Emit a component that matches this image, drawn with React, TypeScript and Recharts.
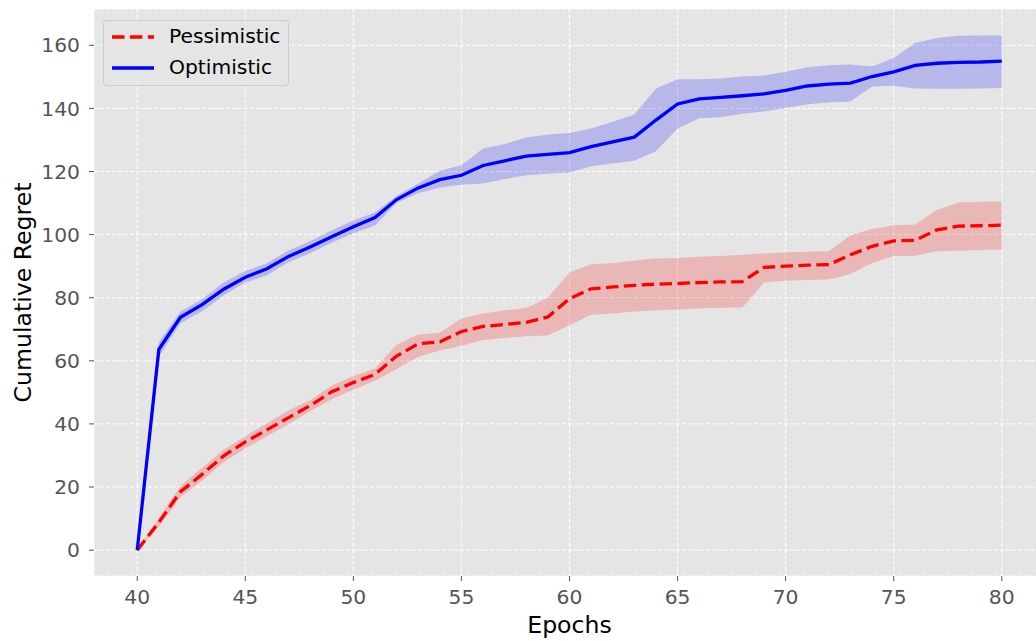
import { ComposedChart, Area, Line, XAxis, YAxis, CartesianGrid, Legend } from 'recharts'

const epochs = [
  40, 41, 42, 43, 44, 45, 46, 47, 48, 49, 50, 51, 52, 53, 54, 55, 56, 57, 58, 59, 60,
  61, 62, 63, 64, 65, 66, 67, 68, 69, 70, 71, 72, 73, 74, 75, 76, 77, 78, 79, 80,
]

const optMean = [
  0, 63.6, 73.8, 77.8, 82.7, 86.5, 89.2, 93.1, 96.1, 99.3, 102.5, 105.4, 111.1,
  114.8, 117.4, 118.8, 121.9, 123.4, 124.9, 125.4, 126.0, 127.9, 129.4, 130.9, 136.3, 141.4, 143.0, 143.5,
  144.0, 144.6, 145.7, 147.1, 147.7, 148.0, 150.1, 151.6, 153.6, 154.3, 154.6, 154.7, 155.0,
]
const optHigh = [
  0, 66.0, 75.6, 79.5, 84.8, 88.5, 90.9, 95.0, 97.9, 101.4, 104.5, 107.0, 112.3,
  116.2, 120.2, 122.0, 127.3, 128.7, 130.8, 131.7, 132.2, 133.6, 135.8, 138.1, 146.3, 149.2, 149.2, 149.5,
  150.1, 150.4, 151.6, 153.0, 153.7, 153.9, 153.3, 156.0, 160.7, 162.3, 163.0, 163.1, 163.2,
]
const optLow = [
  0, 61.3, 71.9, 75.7, 80.7, 84.8, 87.1, 91.2, 94.1, 97.4, 100.4, 102.9, 110.0,
  113.1, 114.9, 115.8, 116.2, 117.6, 118.8, 119.3, 119.7, 121.7, 122.5, 123.4, 126.4, 133.6, 136.9, 137.2,
  138.3, 139.0, 140.1, 141.3, 141.9, 142.2, 146.9, 147.2, 146.3, 146.2, 146.2, 146.3, 146.5,
]

const pessMean = [
  0, 8.8, 18.5, 24.0, 29.9, 34.3, 38.1, 42.0, 45.8, 50.2, 53.1, 55.7, 61.5,
  65.4, 66.0, 69.3, 70.9, 71.5, 72.2, 73.9, 79.7, 82.8, 83.4, 83.9, 84.3, 84.5, 84.8, 85.0,
  85.1, 89.6, 90.0, 90.3, 90.5, 93.6, 96.3, 98.0, 98.2, 101.5, 102.7, 102.8, 103.0,
]
const pessHigh = [
  0, 10.3, 20.3, 26.1, 31.8, 36.1, 40.2, 44.3, 47.5, 52.2, 55.2, 57.6, 65.1,
  68.3, 68.9, 73.4, 75.0, 76.0, 76.7, 80.1, 88.0, 90.6, 91.0, 91.8, 92.4, 92.6, 93.0, 93.2,
  93.6, 94.0, 94.4, 94.6, 94.7, 99.8, 101.8, 103.0, 103.2, 107.9, 110.2, 110.4, 110.5,
]
const pessLow = [
  0, 7.4, 16.8, 22.0, 27.9, 32.2, 36.1, 39.9, 44.0, 47.8, 50.8, 53.7, 57.4,
  61.3, 63.3, 64.8, 66.6, 67.2, 67.8, 68.0, 71.3, 74.6, 75.0, 75.6, 76.0, 76.3, 76.6, 76.8,
  76.9, 84.8, 85.4, 85.6, 85.8, 87.5, 91.0, 93.2, 93.3, 94.7, 94.9, 95.1, 95.2,
]

const xTicks = [40, 45, 50, 55, 60, 65, 70, 75, 80]
const yTicks = [0, 20, 40, 60, 80, 100, 120, 140, 160]

const data = epochs.map((e, i) => ({
  epoch: e,
  opt: optMean[i],
  optBand: [optLow[i], optHigh[i]],
  pess: pessMean[i],
  pessBand: [pessLow[i], pessHigh[i]],
}))

const FONT = '"DejaVu Sans", sans-serif'
const DASH = '12.5 5.4'

function LegendBox() {
  return (
    <div
      style={{
        position: 'relative',
        width: 186,
        height: 66,
        boxSizing: 'border-box',
        background: 'rgba(229,229,229,0.8)',
        border: '1px solid #cccccc',
        borderRadius: 4,
        fontFamily: FONT,
        fontSize: 20.3,
        color: '#000',
      }}
    >
      <svg width={44} height={60} style={{ position: 'absolute', left: 7, top: 0 }}>
        <line x1={1} x2={43} y1={16} y2={16} stroke="#ff0000" strokeWidth={3.3} strokeDasharray={DASH} />
        <line x1={1} x2={43} y1={47} y2={47} stroke="#0000ff" strokeWidth={3.3} />
      </svg>
      <div style={{ position: 'absolute', left: 65, top: 3, lineHeight: '24px' }}>Pessimistic</div>
      <div style={{ position: 'absolute', left: 65, top: 34, lineHeight: '24px' }}>Optimistic</div>
    </div>
  )
}

export default function App() {
  const tick = { fill: '#555555', fontSize: 20.3, fontFamily: FONT }
  return (
    <div style={{ position: 'absolute', left: 0, top: 0, width: 1036, height: 641, overflow: 'hidden', background: '#fff' }}>
      <ComposedChart width={1045} height={641} data={data} margin={{ top: 9, right: 0, bottom: 0, left: 0 }}>
        <CartesianGrid fill="#e5e5e5" fillOpacity={1} stroke="#ffffff" strokeDasharray="4 2" strokeWidth={1} />
        <XAxis
          dataKey="epoch"
          type="number"
          domain={[38, 82]}
          ticks={xTicks}
          height={65}
          axisLine={false}
          tickLine={{ stroke: '#555555' }}
          tickSize={5}
          tickMargin={9}
          tick={tick}
          label={{ value: 'Epochs', position: 'insideBottom', offset: 8, fill: '#000', fontSize: 23.6, fontFamily: FONT }}
        />
        <YAxis
          type="number"
          domain={[-8.2, 171.5]}
          ticks={yTicks}
          width={94}
          axisLine={false}
          tickLine={{ stroke: '#555555' }}
          tickSize={5}
          tickMargin={9}
          tick={tick}
          label={{
            value: 'Cumulative Regret',
            angle: -90,
            position: 'insideLeft',
            offset: 23,
            fill: '#000',
            fontSize: 23.6,
            fontFamily: FONT,
            style: { textAnchor: 'middle' },
          }}
        />
        <Area
          dataKey="optBand"
          type="linear"
          stroke="none"
          fill="#0000ff"
          fillOpacity={0.2}
          isAnimationActive={false}
          activeDot={false}
        />
        <Area
          dataKey="pessBand"
          type="linear"
          stroke="none"
          fill="#ff0000"
          fillOpacity={0.2}
          isAnimationActive={false}
          activeDot={false}
        />
        <Line
          dataKey="pess"
          type="linear"
          stroke="#ff0000"
          strokeWidth={3.3}
          strokeDasharray={DASH}
          dot={false}
          activeDot={false}
          isAnimationActive={false}
        />
        <Line
          dataKey="opt"
          type="linear"
          stroke="#0000ff"
          strokeWidth={3.3}
          dot={false}
          activeDot={false}
          isAnimationActive={false}
        />
        <Legend
          layout="vertical"
          align="center"
          verticalAlign="middle"
          content={() => <LegendBox />}
          wrapperStyle={{ left: 103, top: 20, width: 186, height: 66 }}
        />
      </ComposedChart>
    </div>
  )
}
